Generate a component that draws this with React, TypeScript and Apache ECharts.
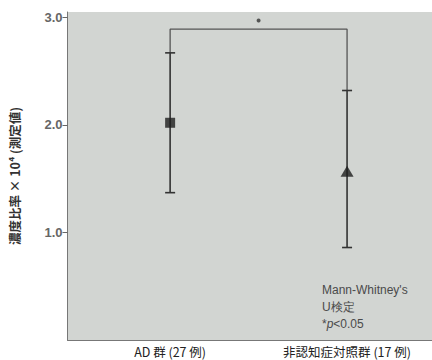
import React, { useEffect, useRef } from "react";
import * as echarts from "echarts";

const categories = ["AD 群 (27 例)", "非認知症対照群 (17 例)"];
const groupPos = [1, 2];
const means = [2.02, 1.57];
const upper = [2.67, 2.32];
const lower = [1.37, 0.86];
const markers = ["rect", "triangle"];
const yTicks = [1, 2, 3];
const bracketY = 2.89;
const starY = 2.97;

export default function App() {
  const ref = useRef<HTMLDivElement>(null);
  useEffect(() => {
    const chart = echarts.init(ref.current!, null, { renderer: "svg" });
    const errData = groupPos.map((x, i) => [x, lower[i], upper[i]]);
    const bracket = [
      [groupPos[0], upper[0]],
      [groupPos[0], bracketY],
      [groupPos[1], bracketY],
      [groupPos[1], upper[1]],
    ];
    chart.setOption({
      animation: false,
      backgroundColor: "#ffffff",
      grid: {
        left: 62,
        right: 0,
        top: 12,
        bottom: 20,
        show: true,
        backgroundColor: "#d2d5d2",
        borderWidth: 0,
      },
      xAxis: {
        type: "value",
        min: 0.42,
        max: 2.48,
        splitLine: { show: false },
        axisLine: { show: true, lineStyle: { color: "#777", width: 1 } },
        axisTick: { show: false },
        axisLabel: {
          customValues: groupPos,
          formatter: (v: number) => categories[groupPos.indexOf(Math.round(v))] ?? "",
          fontSize: 12.5,
          color: "#222",
          margin: 5,
          fontFamily: "Noto Sans CJK JP",
        },
      },
      yAxis: {
        type: "value",
        min: 0,
        max: 3.05,
        interval: 1,
        splitLine: { show: false },
        axisLine: { show: true, lineStyle: { color: "#777", width: 1 } },
        axisTick: {
          show: true,
          length: 5,
          inside: false,
          customValues: yTicks,
          lineStyle: { color: "#666" },
        },
        axisLabel: {
          customValues: yTicks,
          formatter: (v: number) => v.toFixed(1),
          fontSize: 13,
          fontWeight: "bold",
          color: "#666",
          margin: 5,
          fontFamily: "Liberation Sans",
        },
        name: "濃度比率 × 10⁴ (測定値)",
        nameLocation: "middle",
        nameRotate: 90,
        nameGap: 47,
        nameTextStyle: {
          fontSize: 12.5,
          fontWeight: "bold",
          color: "#333",
          fontFamily: "Noto Sans CJK JP",
        },
      },
      series: [
        {
          type: "line",
          data: bracket,
          symbol: "none",
          lineStyle: { color: "#555", width: 1.3 },
          z: 1,
        },
        {
          type: "custom",
          data: errData,
          encode: { x: 0, y: [1, 2] },
          renderItem: (params: any, api: any) => {
            const x = api.value(0);
            const lo = api.coord([x, api.value(1)]);
            const hi = api.coord([x, api.value(2)]);
            const hw = 5;
            const st = { stroke: "#333", lineWidth: 1.6 };
            return {
              type: "group",
              children: [
                { type: "line", shape: { x1: lo[0], y1: lo[1], x2: hi[0], y2: hi[1] }, style: st },
                { type: "line", shape: { x1: lo[0] - hw, y1: lo[1], x2: lo[0] + hw, y2: lo[1] }, style: st },
                { type: "line", shape: { x1: hi[0] - hw, y1: hi[1], x2: hi[0] + hw, y2: hi[1] }, style: st },
              ],
            };
          },
          z: 2,
        },
        ...groupPos.map((x, i) => ({
          type: "scatter",
          data: [[x, means[i]]],
          symbol: markers[i],
          symbolSize: i === 0 ? 10 : [13, 11],
          itemStyle: { color: "#1e1e1e" },
          z: 3,
        })),
        {
          type: "scatter",
          data: [[(groupPos[0] + groupPos[1]) / 2, starY]],
          symbol: "circle",
          symbolSize: 4,
          itemStyle: { color: "#333" },
          z: 3,
        },
      ],
      graphic: [
        {
          type: "text",
          left: 322,
          top: 281,
          style: {
            text: "Mann-Whitney's\nU検定\n*{i|p}<0.05",
            fontSize: 12,
            lineHeight: 17,
            fill: "#4a4a4a",
            fontFamily: "Liberation Sans",
            rich: {
              i: { fontStyle: "italic", fontSize: 12, fill: "#4a4a4a", fontFamily: "Liberation Sans" },
            },
          },
        },
      ],
    });
    return () => chart.dispose();
  }, []);
  return <div ref={ref} style={{ width: 432, height: 360, position: "fixed", left: 0, top: 0 }} />;
}
